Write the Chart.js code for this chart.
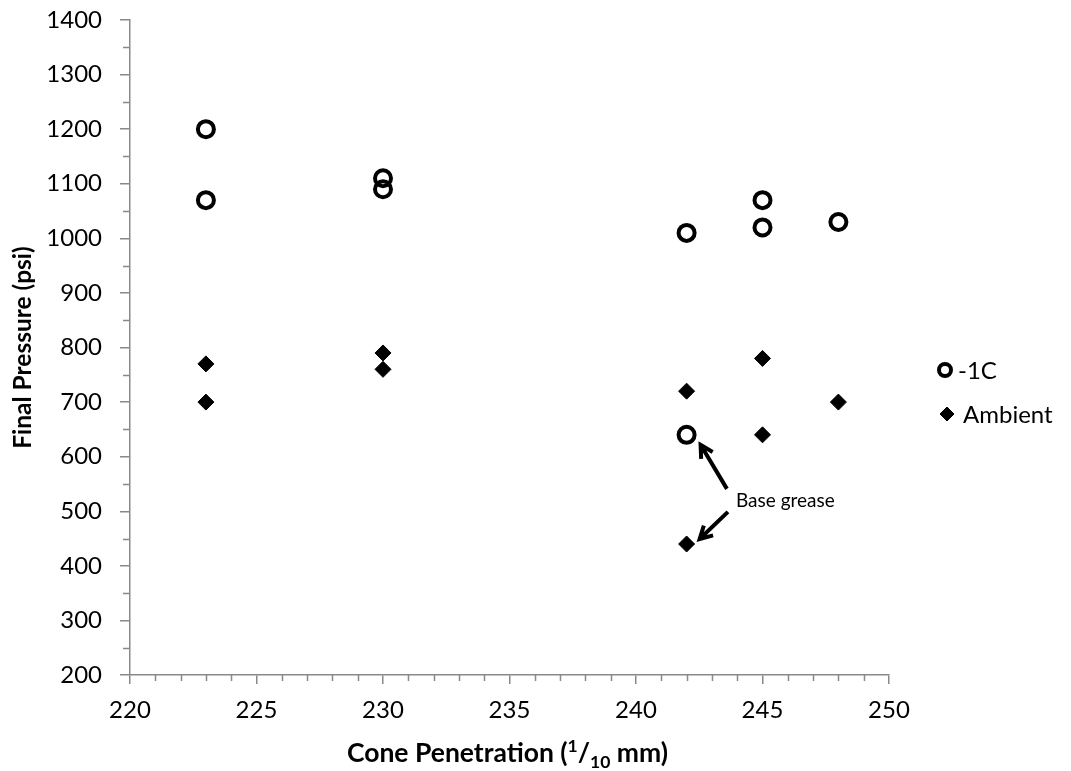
<!DOCTYPE html>
<html>
<head>
<meta charset="utf-8">
<script src="https://cdn.jsdelivr.net/npm/chart.js@4/dist/chart.umd.min.js"></script>
<style>
  body { margin: 0; background: #fff; }
  canvas { display: block; }
</style>
</head>
<body>
<canvas id="pressureChart" width="1071" height="771"></canvas>
<script>
// Cone penetration (1/10 mm) vs final pressure (psi)
const penetration = [223, 223, 230, 230, 242, 245, 245, 248, 242];
const coldPressure = [1200, 1070, 1110, 1090, 1010, 1070, 1020, 1030, 640];
const ambientPressure = [770, 700, 790, 760, 720, 780, 640, 700, 440];
const seriesNames = ["-1C", "Ambient"];

// the last point of each series is the base grease
const baseGreaseIndex = 8;
const noteText = "Base grease";
const notePosition = [243.95, 519];

const X_MIN = 220, X_MAX = 250, X_STEP = 5;
const Y_MIN = 200, Y_MAX = 1400, Y_STEP = 100;

const FONT = "Lato, 'Noto Sans', sans-serif";
const AXIS_GREY = "#898989";

function toPoints(xs, ys) {
  return xs.map((x, i) => ({ x: x, y: ys[i] }));
}

const datasets = [
  {
    label: seriesNames[0],
    data: toPoints(penetration, coldPressure),
    pointStyle: "circle",
    pointRadius: 8,
    pointBorderWidth: 4,
    pointBackgroundColor: "rgba(255,255,255,0)",
    pointBorderColor: "#000",
    showLine: false
  },
  {
    label: seriesNames[1],
    data: toPoints(penetration, ambientPressure),
    pointStyle: "rectRot",
    pointRadius: 8,
    pointBorderWidth: 1,
    pointBackgroundColor: "#000",
    pointBorderColor: "#000",
    showLine: false
  }
];

// small ticks between the labelled ones, drawn outside the plot
const minorTicks = {
  id: "minorTicks",
  afterDraw(chart) {
    const { ctx, scales: { x, y } } = chart;
    ctx.save();
    ctx.strokeStyle = AXIS_GREY;
    ctx.lineWidth = 1.5;
    ctx.beginPath();
    for (let v = X_MIN + 1; v < X_MAX; v++) {
      if (v % X_STEP === 0) continue;
      const px = Math.round(x.getPixelForValue(v)) + 0.5;
      ctx.moveTo(px, y.bottom);
      ctx.lineTo(px, y.bottom + 6);
    }
    for (let v = Y_MIN + Y_STEP / 2; v < Y_MAX; v += Y_STEP) {
      const py = Math.round(y.getPixelForValue(v)) + 0.5;
      ctx.moveTo(x.left, py);
      ctx.lineTo(x.left - 7, py);
    }
    ctx.stroke();
    ctx.restore();
  }
};

// x title with the 1/10 fraction set as super/subscript
const xTitle = {
  id: "xTitle",
  afterDraw(chart) {
    const { ctx, chartArea } = chart;
    const parts = [
      { t: "Cone Penetration (", size: 26.5, dy: 0 },
      { t: "1", size: 17.5, dy: -10 },
      { t: "/", size: 26.5, dy: 0 },
      { t: "10", size: 17.5, dy: 6 },
      { t: " mm)", size: 26.5, dy: 0 }
    ];
    ctx.save();
    let total = 0;
    parts.forEach(p => {
      ctx.font = "bold " + p.size + "px " + FONT;
      p.w = ctx.measureText(p.t).width;
      total += p.w;
    });
    let cx = (chartArea.left + chartArea.right) / 2 - 2 - total / 2;
    const base = 762;
    ctx.fillStyle = "#000";
    ctx.textBaseline = "alphabetic";
    ctx.textAlign = "left";
    parts.forEach(p => {
      ctx.font = "bold " + p.size + "px " + FONT;
      ctx.fillText(p.t, cx, base + p.dy);
      cx += p.w;
    });
    ctx.restore();
  }
};

function arrow(ctx, x1, y1, x2, y2) {
  const a = Math.atan2(y2 - y1, x2 - x1);
  const head = 14;
  ctx.beginPath();
  ctx.moveTo(x1, y1);
  ctx.lineTo(x2, y2);
  ctx.moveTo(x2 + head * Math.cos(a + Math.PI - 0.5), y2 + head * Math.sin(a + Math.PI - 0.5));
  ctx.lineTo(x2, y2);
  ctx.lineTo(x2 + head * Math.cos(a + Math.PI + 0.5), y2 + head * Math.sin(a + Math.PI + 0.5));
  ctx.stroke();
}

// "Base grease" label with arrows to its two points
const baseGreaseNote = {
  id: "baseGreaseNote",
  afterDatasetsDraw(chart) {
    const { ctx, scales: { x, y } } = chart;
    const tx = x.getPixelForValue(notePosition[0]);
    const ty = y.getPixelForValue(notePosition[1]);
    const px = x.getPixelForValue(penetration[baseGreaseIndex]);
    const pyCold = y.getPixelForValue(coldPressure[baseGreaseIndex]);
    const pyAmb = y.getPixelForValue(ambientPressure[baseGreaseIndex]);
    ctx.save();
    ctx.fillStyle = "#000";
    ctx.font = "19px " + FONT;
    ctx.textBaseline = "middle";
    ctx.textAlign = "left";
    ctx.fillText(noteText, tx, ty);
    ctx.strokeStyle = "#000";
    ctx.lineWidth = 4;
    ctx.lineCap = "butt";
    ctx.lineJoin = "miter";
    arrow(ctx, tx - 9, ty - 12, px + 14, pyCold + 10);
    arrow(ctx, tx - 8, ty + 11, px + 13, pyAmb - 5);
    ctx.restore();
  }
};

// legend at the right of the plot
const sideLegend = {
  id: "sideLegend",
  afterDraw(chart) {
    const { ctx, chartArea } = chart;
    const lx = chartArea.right + 56;
    const rows = [370, 414];
    ctx.save();
    ctx.font = "24px " + FONT;
    ctx.textBaseline = "middle";
    ctx.textAlign = "left";
    chart.data.datasets.forEach((ds, i) => {
      ctx.strokeStyle = ds.pointBorderColor;
      ctx.fillStyle = ds.pointBackgroundColor;
      ctx.lineWidth = ds.pointBorderWidth;
      Chart.helpers.drawPoint(ctx, {
        pointStyle: ds.pointStyle,
        radius: ds.pointStyle === "circle" ? 6 : 7,
        borderWidth: ds.pointBorderWidth,
        rotation: 0
      }, lx + (i === 1 ? 2 : 0), rows[i]);
      ctx.fillStyle = "#000";
      ctx.fillText(ds.label, lx + (i === 0 ? 13 : 18), rows[i] + 1);
    });
    ctx.restore();
  }
};

new Chart(document.getElementById("pressureChart"), {
  type: "scatter",
  data: { datasets: datasets },
  options: {
    responsive: false,
    animation: false,
    layout: { padding: { left: 0, top: 20, right: 182, bottom: 0 } },
    plugins: {
      legend: { display: false },
      tooltip: { enabled: false }
    },
    scales: {
      x: {
        type: "linear",
        min: X_MIN,
        max: X_MAX,
        border: { color: AXIS_GREY, width: 1.5 },
        grid: { drawOnChartArea: false, tickLength: 9, color: AXIS_GREY, lineWidth: 1.5 },
        ticks: { stepSize: X_STEP, padding: 12, color: "#000", font: { family: FONT, size: 24 } },
        afterFit(scale) { scale.height = 96; }
      },
      y: {
        type: "linear",
        min: Y_MIN,
        max: Y_MAX,
        border: { color: AXIS_GREY, width: 1.5 },
        grid: { drawOnChartArea: false, tickLength: 10, color: AXIS_GREY, lineWidth: 1.5 },
        ticks: {
          stepSize: Y_STEP,
          padding: 18,
          color: "#000",
          font: { family: FONT, size: 24 },
          callback: value => String(value)
        },
        title: {
          display: true,
          text: "Final Pressure (psi)",
          color: "#000",
          font: { family: FONT, size: 24.5, weight: "bold" },
          padding: { top: 8, bottom: 0 }
        },
        afterFit(scale) {
          scale.width = 130;
          // keep the tick padding from pushing the plot down
          scale.paddingTop = 0;
          scale.paddingBottom = 0;
        }
      }
    }
  },
  plugins: [minorTicks, baseGreaseNote, xTitle, sideLegend]
});
</script>
</body>
</html>
